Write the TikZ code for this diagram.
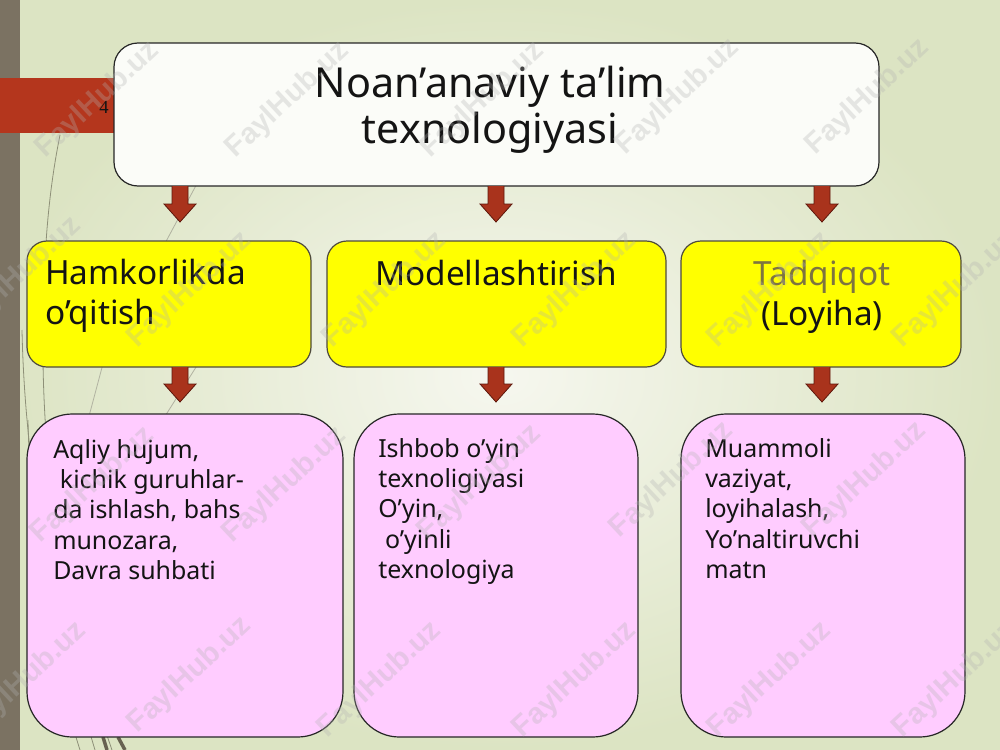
\documentclass[tikz,border=0pt]{standalone}
\usepackage{fontspec}
\setmainfont{Noto Sans}
\newfontfamily\numfont{Liberation Serif}
\newfontfamily\wmfont{Liberation Sans}[BoldFont={Liberation Sans Bold}]
\usetikzlibrary{calc}
\definecolor{bgin}{HTML}{F6F7EF}
\definecolor{bgout}{HTML}{DCE4C3}
\definecolor{strip}{HTML}{7B7262}
\definecolor{barred}{HTML}{B4361D}
\definecolor{arrred}{HTML}{A9331C}
\definecolor{arredge}{HTML}{5E180C}
\definecolor{yfill}{HTML}{FFFF00}
\definecolor{pfill}{HTML}{FFCCFF}
\definecolor{topfill}{HTML}{FBFCF8}
\definecolor{wisp}{HTML}{8E9078}
\definecolor{wispdark}{HTML}{676150}
\definecolor{tadq}{HTML}{7D7440}
\definecolor{txt}{HTML}{141414}
\newcommand\blockarr[2]{%
  \draw[arrowsty] ($(#1)+(-8,0)$) -- ($(#2)+(-8,-18)$) -- ($(#2)+(-16,-18)$) -- (#2)
    -- ($(#2)+(16,-18)$) -- ($(#2)+(8,-18)$) -- ($(#1)+(8,0)$);}
\begin{document}
\begin{tikzpicture}[x=0.75pt,y=-0.75pt,
  boxsty/.style={draw=black!85, line width=0.9pt, inner sep=0pt, outer sep=0pt, anchor=north west},
  topbox/.style={boxsty, fill=topfill, rounded corners=18pt, minimum width=573.75pt, minimum height=107.25pt},
  ybox/.style={boxsty, fill=yfill, draw=black!80!yellow, rounded corners=15pt, minimum height=94.5pt},
  pbox/.style={boxsty, fill=pfill, rounded corners=34pt, minimum height=242.25pt},
  arrowsty/.style={fill=arrred, draw=arredge, line width=0.6pt, line join=miter},
  ttext/.style={inner sep=0pt, text=txt, font=\fontsize{31}{34}\selectfont, align=center, anchor=north},
  ytext/.style={inner sep=0pt, text=txt, font=\fontsize{25}{30}\selectfont},
  ptext/.style={inner sep=0pt, text=txt, font=\fontsize{18.7}{22.7}\selectfont, align=left, anchor=north west},
  wm/.style={font=\wmfont\bfseries\fontsize{22}{22}\selectfont, text=gray!60, opacity=0.3, rotate=43, inner sep=0pt},
  wispline/.style={draw=wisp, line width=0.6pt},
]
\useasboundingbox (0,0) rectangle (1000,750);
% background
\shade[inner color=bgin, outer color=bgout] (0,0) rectangle (1000,750);
% decorative wisps
\draw[wispline] (112,750) .. controls (60,600) and (35,450) .. (45,260) .. controls (48,200) and (55,160) .. (60,135);
\draw[wispline] (95,750) .. controls (50,600) and (25,470) .. (22,330);
\draw[wispline] (80,750) .. controls (45,640) and (30,520) .. (28,420);
\draw[wispline, draw=wisp!70] (215,150) -- (140,290);
\draw[wispline, draw=wisp!70] (210,345) -- (150,440);
\draw[wispline, draw=wisp!70] (112,330) -- (80,450);
\draw[draw=wispdark, line width=2.6pt] (103,737) -- (107,750);
\draw[draw=wispdark, line width=2.6pt] (118,737) -- (125,750);
% left strip and red bar
\fill[strip] (0,0) rectangle (20,750);
\fill[barred] (0,78) rectangle (116,133);
\node[inner sep=0pt, font=\numfont\fontsize{14}{14}\selectfont, text=txt] (pagenum) at (104,107) {4};
% boxes
\node[topbox] (top) at (114,43) {};
\node[ybox, minimum width=213pt] (y1) at (27,241) {};
\node[ybox, minimum width=254.25pt] (y2) at (327,241) {};
\node[ybox, minimum width=210pt] (y3) at (681,241) {};
\node[pbox, minimum width=237pt] (p1) at (27,414) {};
\node[pbox, minimum width=213pt] (p2) at (354,414) {};
\node[pbox, minimum width=213pt] (p3) at (681,414) {};
% arrow positions
\coordinate (ax1) at (180,0);
\coordinate (ax2) at (496,0);
\coordinate (ax3) at (822,0);
\coordinate (s1) at (top.south -| ax1);
\coordinate (s2) at (top.south -| ax2);
\coordinate (s3) at (top.south -| ax3);
\coordinate (t1) at ($(y1.north -| ax1)+(0,-19)$);
\coordinate (t2) at ($(y2.north -| ax2)+(0,-19)$);
\coordinate (t3) at ($(y3.north -| ax3)+(0,-19)$);
\coordinate (u1) at (y1.south -| ax1);
\coordinate (u2) at (y2.south -| ax2);
\coordinate (u3) at (y3.south -| ax3);
\coordinate (v1) at ($(p1.north -| ax1)+(0,-12)$);
\coordinate (v2) at ($(p2.north -| ax2)+(0,-12)$);
\coordinate (v3) at ($(p3.north -| ax3)+(0,-12)$);
\blockarr{s1}{t1}
\blockarr{s2}{t2}
\blockarr{s3}{t3}
\blockarr{u1}{v1}
\blockarr{u2}{v2}
\blockarr{u3}{v3}
% texts
\node[ttext] (title) at (490,66) {Noan’anaviy ta’lim\\texnologiyasi};
\node[ytext, align=left, anchor=north west] (yt1) at (45,259) {Hamkorlikda\\o’qitish};
\node[ytext, align=center, anchor=north] (yt2) at (496,260) {Modellashtirish};
\node[ytext, align=center, anchor=north] (yt3) at (822,260) {\textcolor{tadq}{Tadqiqot}\\(Loyiha)};
\node[ptext] (pt1) at (53,439) {Aqliy hujum,\\\hspace*{0.27em}kichik guruhlar-\\da ishlash, bahs\\munozara,\\Davra suhbati};
\node[ptext] (pt2) at (378,438) {Ishbob o’yin\\texnoligiyasi\\O’yin,\\\hspace*{0.27em}o’yinli\\texnologiya};
\node[ptext] (pt3) at (705,438) {Muammoli\\vaziyat,\\loyihalash,\\Yo’naltiruvchi\\matn};
% watermarks
\foreach \wx/\wy [count=\i] in {98/100,288/100,483/100,678/97,868/97,
  20/275,190/290,385/290,575/290,770/290,955/290,
  93/485,285/485,480/483,672/480,865/480,
  25/680,190/675,380/680,575/680,770/680,955/680}
  \node[wm] (wm\i) at (\wx,\wy) {FaylHub.uz};
\end{tikzpicture}
\end{document}
